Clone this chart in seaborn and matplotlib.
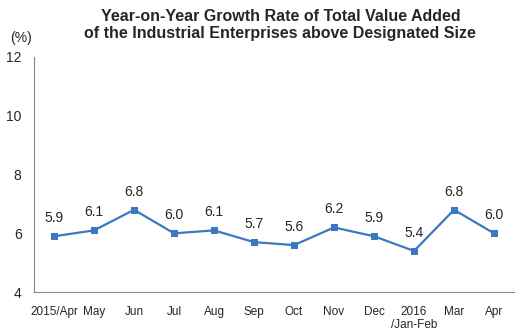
import matplotlib
matplotlib.use("Agg")
import matplotlib.pyplot as plt
import seaborn as sns
import pandas as pd
import numpy as np

categories = ["2015/Apr", "May", "Jun", "Jul", "Aug", "Sep", "Oct", "Nov", "Dec",
              "2016\n/Jan-Feb", "Mar", "Apr"]
values = [5.9, 6.1, 6.8, 6.0, 6.1, 5.7, 5.6, 6.2, 5.9, 5.4, 6.8, 6.0]
yticks = [4, 6, 8, 10, 12]

sns.set_style("white")
plt.rcParams['font.family'] = ['Liberation Sans', 'DejaVu Sans']

fig = plt.figure(figsize=(5.24, 3.35), dpi=100)
ax = fig.add_axes([0.065, 0.128, 0.916, 0.702])

df = pd.DataFrame({"x": np.arange(len(categories)), "v": values})
color = "#3b78c0"
sns.lineplot(data=df, x="x", y="v", ax=ax, color=color, linewidth=1.6,
             marker="s", markersize=4, markeredgecolor=color, markerfacecolor=color)

for xi, v in zip(df["x"], values):
    ax.annotate(f"{v:.1f}", (xi, v), xytext=(0, 8), textcoords="offset points",
                ha="center", va="bottom", fontsize=10)

ax.set_xlim(-0.5, len(categories) - 0.5)
ax.set_ylim(4, 12)
ax.set_yticks(yticks)
ax.set_yticklabels([str(t) for t in yticks], fontsize=10)
ax.set_xticks(np.arange(len(categories)))
ax.set_xticklabels(categories, fontsize=8.5, linespacing=1.1)
ax.set_xticks(np.arange(len(categories) + 1) - 0.5, minor=True)
ax.tick_params(axis="x", which="major", length=0, pad=10)
ax.tick_params(axis="x", which="minor", length=3, direction="in", color="#888888", width=0.8)
ax.tick_params(axis="y", length=3, direction="in", color="#888888", width=0.8, pad=9)
ax.set_xlabel("")
ax.set_ylabel("")

for s in ["top", "right"]:
    ax.spines[s].set_visible(False)
for s in ["left", "bottom"]:
    ax.spines[s].set_color("#888888")
    ax.spines[s].set_linewidth(0.8)

fig.text(0.02, 0.865, "(%)", fontsize=10, ha="left", va="bottom")
fig.text(0.535, 0.972, "Year-on-Year Growth Rate of Total Value Added\nof the Industrial Enterprises above Designated Size",
         ha="center", va="top", fontsize=11.5, fontweight="bold", linespacing=1.1)

fig.savefig("out.png", dpi=100)
